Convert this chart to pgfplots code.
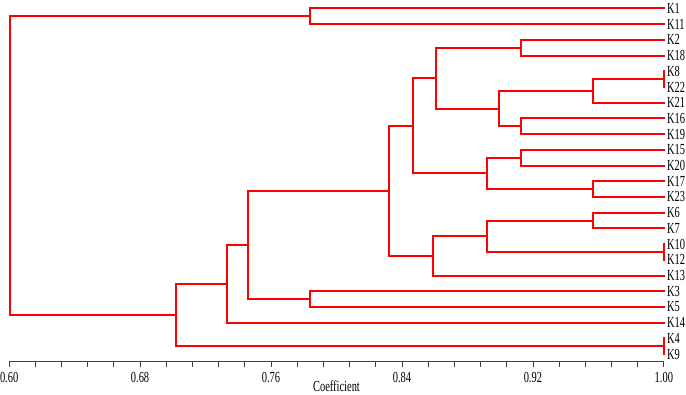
\documentclass[border=0pt]{standalone}
\usepackage{fontspec}
\setmainfont{Liberation Serif}[FakeStretch=0.68]
\usepackage{pgfplots}
\pgfplotsset{compat=1.18}

\begin{document}
\begin{tikzpicture}
\begin{axis}[
  scale only axis,
  width=658bp, height=360bp,
  xmin=0.60, xmax=1.00,
  ymin=-0.32, ymax=22.47, y dir=reverse,
  axis x line*=bottom, axis y line*=right,
  y axis line style={draw=none},
  x axis line style={black!75, line width=0.8bp},
  xtick={0.60,0.68,...,1.001},
  xticklabels={0.60,0.68,0.76,0.84,0.92,1.00},
  minor xtick={0.616,0.632,...,1.0},
  tick align=outside,
  major tick length=5bp, minor tick length=5bp,
  every tick/.style={black!75, line width=0.8bp},
  ytick={0,...,22},
  yticklabels={K1,K11,K2,K18,K8,K22,K21,K16,K19,K15,K20,K17,K23,
               K6,K7,K10,K12,K13,K3,K5,K14,K4,K9},
  major y tick style={draw=none},
  yticklabel style={anchor=west, xshift=-3bp, inner xsep=1bp,
                    font=\fontsize{15.5}{15.5}\selectfont},
  xticklabel style={yshift=-2bp, inner xsep=0pt, font=\fontsize{15.5}{15.5}\selectfont},
  /pgf/number format/assume math mode=true,
  xlabel={Coefficient},
  xlabel style={font=\fontsize{15.5}{15.5}\selectfont, yshift=9bp},
  clip=false,
  seg/.style={red, solid, mark=none, line width=2bp, line cap=rect},
]
% K1/K11
\addplot[seg] coordinates {(1,0) (0.784,0) (0.784,1) (1,1)};
% K2/K18
\addplot[seg] coordinates {(1,2) (0.913,2) (0.913,3) (1,3)};
% K8/K22 (identical)
\addplot[seg] coordinates {(1,4) (1,5)};
\addplot[seg] coordinates {(1,4.5) (0.9565,4.5) (0.9565,6) (1,6)};
% K16/K19
\addplot[seg] coordinates {(1,7) (0.913,7) (0.913,8) (1,8)};
\addplot[seg] coordinates {(0.9565,5.25) (0.899,5.25) (0.899,7.5) (0.913,7.5)};
\addplot[seg] coordinates {(0.913,2.5) (0.861,2.5) (0.861,6.375) (0.899,6.375)};
% K15/K20, K17/K23
\addplot[seg] coordinates {(1,9) (0.913,9) (0.913,10) (1,10)};
\addplot[seg] coordinates {(1,11) (0.9565,11) (0.9565,12) (1,12)};
\addplot[seg] coordinates {(0.913,9.5) (0.892,9.5) (0.892,11.5) (0.9565,11.5)};
\addplot[seg] coordinates {(0.861,4.4375) (0.847,4.4375) (0.847,10.5) (0.892,10.5)};
% K6/K7, K10/K12, K13
\addplot[seg] coordinates {(1,13) (0.9565,13) (0.9565,14) (1,14)};
\addplot[seg] coordinates {(1,15) (1,16)};
\addplot[seg] coordinates {(0.9565,13.5) (0.892,13.5) (0.892,15.5) (1,15.5)};
\addplot[seg] coordinates {(0.892,14.5) (0.859,14.5) (0.859,17) (1,17)};
\addplot[seg] coordinates {(0.847,7.469) (0.832,7.469) (0.832,15.75) (0.859,15.75)};
% K3/K5
\addplot[seg] coordinates {(1,18) (0.784,18) (0.784,19) (1,19)};
\addplot[seg] coordinates {(0.832,11.609) (0.746,11.609) (0.746,18.5) (0.784,18.5)};
% K14
\addplot[seg] coordinates {(0.746,15.055) (0.733,15.055) (0.733,20) (1,20)};
% K4/K9
\addplot[seg] coordinates {(1,21) (1,22)};
\addplot[seg] coordinates {(0.733,17.527) (0.702,17.527) (0.702,21.5) (1,21.5)};
% root
\addplot[seg] coordinates {(0.784,0.5) (0.6005,0.5) (0.6005,19.514) (0.702,19.514)};
\end{axis}
\end{tikzpicture}
\end{document}
